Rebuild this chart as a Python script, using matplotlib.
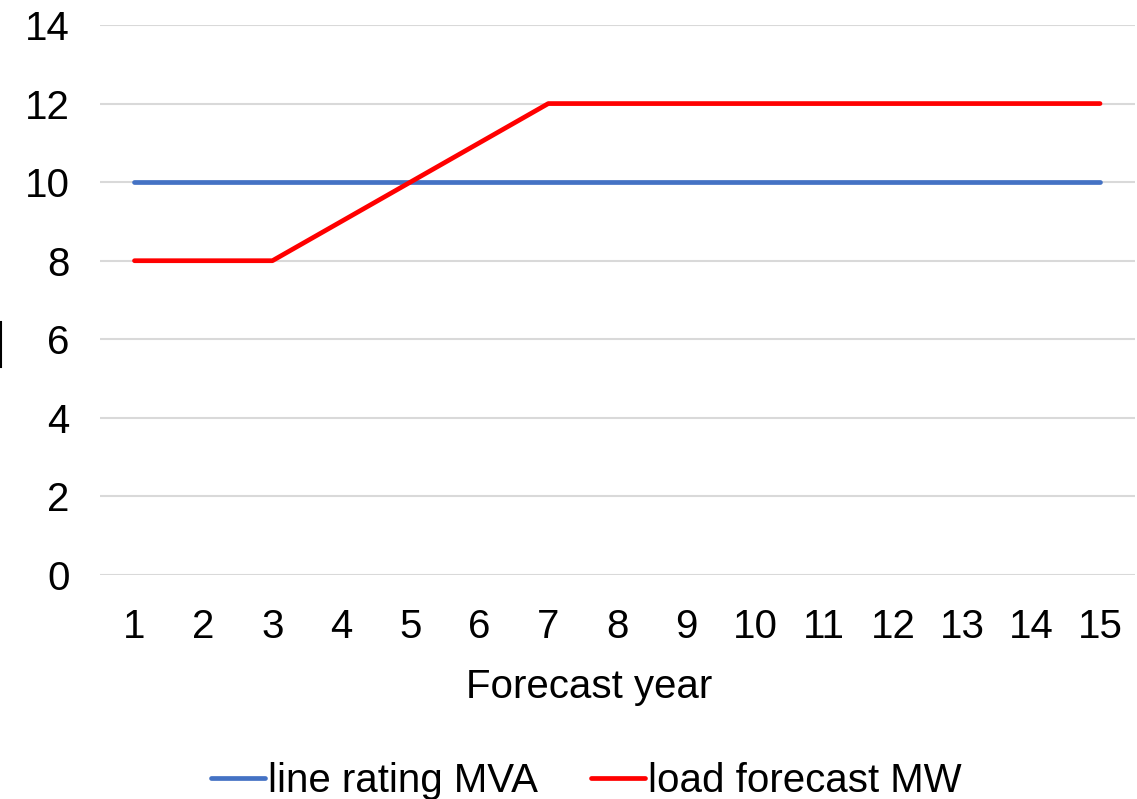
import matplotlib
matplotlib.use('Agg')
import matplotlib.pyplot as plt
from matplotlib.lines import Line2D

plt.rcParams['font.family'] = ['Liberation Sans', 'DejaVu Sans']

years = list(range(1, 16))
line_rating = [10] * 15
load_forecast = [8, 8, 8, 9, 10, 11, 12, 12, 12, 12, 12, 12, 12, 12, 12]
yticks = [0, 2, 4, 6, 8, 10, 12, 14]

FS = 29

fig = plt.figure(figsize=(11.37, 7.99), dpi=100)
ax = fig.add_axes([100/1137, 1-575/799, 1034.5/1137, 550/799])

ax.plot(years, line_rating, color='#4472C4', lw=3.4, label='line rating MVA', solid_capstyle='round')
ax.plot(years, load_forecast, color='#FF0000', lw=3.4, label='load forecast MW', solid_capstyle='round')

ax.set_xlim(0.5, 15.5)
ax.set_ylim(0, 14)
ax.set_xticks(years)
ax.set_yticks(yticks)
ax.grid(axis='y', color='#d9d9d9', lw=1.5)
ax.set_axisbelow(True)
for s in ax.spines.values():
    s.set_visible(False)
ax.tick_params(length=0, labelsize=FS)
ax.tick_params(axis='y', pad=22)
ax.tick_params(axis='x', pad=24)
ax.set_xlabel('Forecast year', fontsize=FS)
ax.xaxis.set_label_coords(0.473, (687 - 575) / -550)
ax.xaxis.label.set_verticalalignment('center')

ax.legend(loc='center', bbox_to_anchor=(0.47, (781 - 575) / -550), ncol=2, frameon=False,
          fontsize=FS, handlelength=1.35, handletextpad=0.08, columnspacing=1.3,
          borderaxespad=0, borderpad=0)

# clipped axis-title remnant at the left edge
fig.add_artist(Line2D([0.001, 0.001], [1-322/799, 1-367/799], color='black', lw=1.5))

fig.savefig('out.png', dpi=100)
